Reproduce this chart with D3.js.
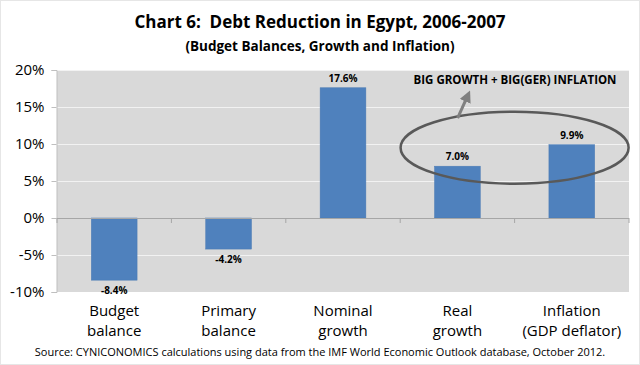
<!DOCTYPE html>
<html>
<head>
  <style>
    body { margin: 0; background: #fff; }
    svg text { font-family: "Open Sans", "Noto Sans", sans-serif; }
  </style>
  <title>Chart 6: Debt Reduction in Egypt, 2006-2007</title>
</head>
<body>
  <script src="https://cdn.jsdelivr.net/npm/d3@7/dist/d3.min.js"></script>
  <script>
    // data
    var categories = [["Budget", "balance"], ["Primary", "balance"], ["Nominal", "growth"], ["Real", "growth"], ["Inflation", "(GDP deflator)"]];
    var values = [-8.4, -4.2, 17.6, 7.0, 9.9];
    var yTicks = [-10, -5, 0, 5, 10, 15, 20];

    var width = 640;
    var height = 365;
    var plotLeft = 57, plotRight = 629, plotTop = 70, plotBottom = 292;

    var svg = d3.select("body").append("svg")
      .attr("width", width)
      .attr("height", height);

    // light frame round the picture
    svg.append("rect")
      .attr("x", 0.5).attr("y", 0.5)
      .attr("width", width - 1).attr("height", height - 1)
      .attr("fill", "#fff").attr("stroke", "#e6e6e6");

    var x = d3.scaleBand()
      .domain(d3.range(categories.length))
      .range([plotLeft, plotRight])
      .paddingInner(0.6).paddingOuter(0.3);
    var band = d3.scaleBand().domain(d3.range(categories.length)).range([plotLeft, plotRight]);
    var y = d3.scaleLinear().domain([-10, 20]).range([plotBottom, plotTop]);

    // plot area
    svg.append("rect")
      .attr("x", plotLeft).attr("y", plotTop)
      .attr("width", plotRight - plotLeft).attr("height", plotBottom - plotTop)
      .attr("fill", "#d9d9d9");

    // gridlines
    svg.append("g").selectAll("line")
      .data(yTicks.filter(function(d) { return d !== 0 && d !== -10; }))
      .enter().append("line")
      .attr("x1", plotLeft).attr("x2", plotRight)
      .attr("y1", function(d) { return y(d) + 0.5; })
      .attr("y2", function(d) { return y(d) + 0.5; })
      .attr("stroke", "#f2f2f2").attr("stroke-width", 1);

    // y axis
    var yAxis = d3.axisLeft(y)
      .tickValues(yTicks)
      .tickSize(5)
      .tickFormat(function(d) { return d + "%"; });
    var gy = svg.append("g")
      .attr("transform", "translate(" + (plotLeft - 0.5) + ",0)")
      .call(yAxis);
    gy.select(".domain").attr("stroke", "#bfbfbf");
    gy.selectAll(".tick line").attr("stroke", "#bfbfbf");
    gy.selectAll(".tick text")
      .attr("x", -12)
      .attr("fill", "#000")
      .style("font-size", "15px");

    // bars
    svg.append("g").selectAll("rect")
      .data(values)
      .enter().append("rect")
      .attr("x", function(d, i) { return x(i); })
      .attr("y", function(d) { return y(Math.max(0, d)); })
      .attr("width", x.bandwidth())
      .attr("height", function(d) { return Math.abs(y(d) - y(0)); })
      .attr("fill", "#4f81bd")
      .attr("stroke", "#4a7ab3").attr("stroke-width", 0.5);

    // zero line with category ticks
    svg.append("line")
      .attr("x1", plotLeft).attr("x2", plotRight)
      .attr("y1", y(0) + 0.5).attr("y2", y(0) + 0.5)
      .attr("stroke", "#a6a6a6");
    svg.append("g").selectAll("line")
      .data(d3.range(categories.length + 1))
      .enter().append("line")
      .attr("x1", function(d) { return band(0) + d * band.bandwidth(); })
      .attr("x2", function(d) { return band(0) + d * band.bandwidth(); })
      .attr("y1", y(0)).attr("y2", y(0) + 5)
      .attr("stroke", "#a6a6a6");

    // value labels
    svg.append("g").selectAll("text")
      .data(values)
      .enter().append("text")
      .attr("x", function(d, i) { return x(i) + x.bandwidth() / 2; })
      .attr("y", function(d) { return d >= 0 ? y(d) - 6 : y(d) + 14; })
      .attr("text-anchor", "middle")
      .style("font-size", "10px")
      .style("font-weight", "bold")
      .text(function(d) { return d.toFixed(1) + "%"; });

    // category labels
    var cat = svg.append("g").selectAll("text")
      .data(categories)
      .enter().append("text")
      .attr("text-anchor", "middle")
      .style("font-size", "15px")
      .attr("x", function(d, i) { return x(i) + x.bandwidth() / 2; });
    cat.append("tspan")
      .attr("x", function(d, i) { return x(i) + x.bandwidth() / 2; })
      .attr("y", 316)
      .text(function(d) { return d[0]; });
    cat.append("tspan")
      .attr("x", function(d, i) { return x(i) + x.bandwidth() / 2; })
      .attr("y", 336)
      .text(function(d) { return d[1]; });

    // titles
    svg.append("text")
      .attr("x", 320).attr("y", 28)
      .attr("text-anchor", "middle")
      .style("font-size", "17px").style("font-weight", "bold")
      .style("white-space", "pre")
      .text("Chart 6:  Debt Reduction in Egypt, 2006-2007");
    svg.append("text")
      .attr("x", 320).attr("y", 51)
      .attr("text-anchor", "middle")
      .style("font-size", "13.5px").style("font-weight", "bold")
      .text("(Budget Balances, Growth and Inflation)");

    // annotation: ellipse round the last two bars, arrow and text
    var cx = (x(3) + x(4) + x.bandwidth()) / 2;
    svg.append("ellipse")
      .attr("cx", cx).attr("cy", y(9.5))
      .attr("rx", 114).attr("ry", 36)
      .attr("fill", "none")
      .attr("stroke", "#595959").attr("stroke-width", 2.5);

    svg.append("defs").append("marker")
      .attr("id", "head")
      .attr("viewBox", "0 0 10 10")
      .attr("refX", 5).attr("refY", 5)
      .attr("markerWidth", 4).attr("markerHeight", 4)
      .attr("orient", "auto")
      .append("path")
      .attr("d", "M0,0 L10,5 L0,10 z")
      .attr("fill", "#808080");
    svg.append("line")
      .attr("x1", cx - 57).attr("y1", y(13.5))
      .attr("x2", cx - 47).attr("y2", y(16.5))
      .attr("stroke", "#808080").attr("stroke-width", 3)
      .attr("marker-end", "url(#head)");

    svg.append("text")
      .attr("x", 515).attr("y", 84)
      .attr("text-anchor", "middle")
      .style("font-size", "11.5px").style("font-weight", "bold")
      .text("BIG GROWTH + BIG(GER) INFLATION");

    // source
    svg.append("text")
      .attr("x", 320).attr("y", 356)
      .attr("text-anchor", "middle")
      .style("font-size", "11px")
      .text("Source: CYNICONOMICS calculations using data from the IMF World Economic Outlook database, October 2012.");
  </script>
</body>
</html>
